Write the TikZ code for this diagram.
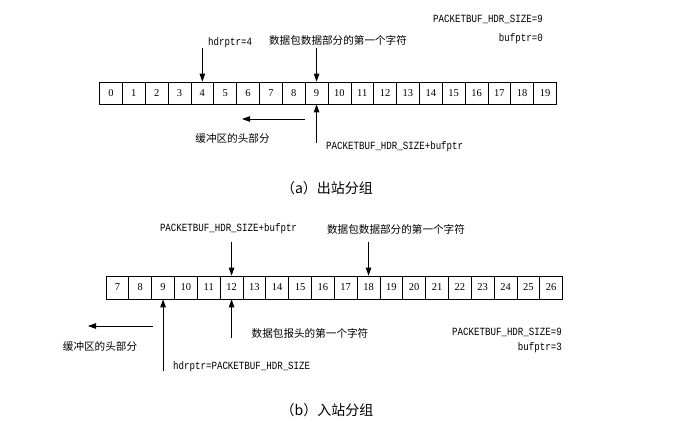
\documentclass[tikz,border=0pt]{standalone}
\usepackage{fontspec}
\setmainfont{Liberation Serif}
\newfontfamily\cjk{Noto Sans CJK SC}
\newfontfamily\monof[FakeStretch=0.83]{Liberation Mono}
\usetikzlibrary{arrows.meta}
\tikzset{
  cellA/.style={draw, line width=0.7pt, minimum width=22.85pt, minimum height=22pt, inner sep=0pt, font=\fontsize{10.5}{12}\selectfont},
  cellB/.style={draw, line width=0.7pt, minimum width=22.83pt, minimum height=23pt, inner sep=0pt, font=\fontsize{10.5}{12}\selectfont},
  arr/.style={line width=0.8pt, -{Triangle[length=8pt,width=5.5pt]}},
  mlab/.style={inner sep=0pt, font=\monof\fontsize{11}{12}\selectfont},
  clab/.style={inner sep=0pt, font=\cjk\fontsize{10.6}{12}\selectfont},
  caplab/.style={inner sep=0pt, font=\cjk\fontsize{14}{16}\selectfont},
}
\begin{document}
\begin{tikzpicture}[x=1pt,y=-1pt]
\useasboundingbox (0,0) rectangle (691,427);
% ---- (a) ----
\foreach \i in {0,...,19} {
  \node[cellA] (a\i) at ({99.5+(\i+0.5)*22.85},93) {\i};
}
\node[mlab, anchor=east] (asz) at (543,19) {PACKETBUF\_HDR\_SIZE=9};
\node[mlab, anchor=east] (abp) at (543,39) {bufptr=0};
\node[mlab, anchor=west] (ahdr) at (208,43) {hdrptr=4};
\node[clab] (adata) at (338,40) {数据包数据部分的第一个字符};
\coordinate (ap4) at ([yshift=34pt]a4.north);
\coordinate (ap9) at ([yshift=34pt]a9.north);
\draw[arr] (ap4) -- (a4.north);
\draw[arr] (ap9) -- (a9.north);
\coordinate (aq9) at ([yshift=-39pt]a9.south);
\draw[arr] (aq9) -- (a9.south);
\node[mlab, anchor=west] (apbs) at (326,147) {PACKETBUF\_HDR\_SIZE+bufptr};
\coordinate (al1) at (305,119);
\coordinate (al2) at (242,119);
\draw[arr] (al1) -- (al2);
\node[clab] (ahead) at (232.5,138) {缓冲区的头部分};
\node[caplab] (acap) at (327,188) {（a）出站分组};
% ---- (b) ----
\foreach \i [evaluate=\i as \v using int(\i+7)] in {0,...,19} {
  \node[cellB] (b\i) at ({106+(\i+0.5)*22.83},287.5) {\v};
}
\node[mlab] (bpbs) at (228.5,229) {PACKETBUF\_HDR\_SIZE+bufptr};
\node[clab] (bdata) at (396,229) {数据包数据部分的第一个字符};
\coordinate (bp5) at ([yshift=34pt]b5.north);
\coordinate (bp11) at ([yshift=34pt]b11.north);
\draw[arr] (bp5) -- (b5.north);
\draw[arr] (bp11) -- (b11.north);
\coordinate (bq2) at ([yshift=-72pt]b2.south);
\coordinate (bq5) at ([yshift=-39pt]b5.south);
\draw[arr] (bq2) -- (b2.south);
\draw[arr] (bq5) -- (b5.south);
\node[mlab, anchor=west] (bhdr) at (173,367) {hdrptr=PACKETBUF\_HDR\_SIZE};
\node[clab] (bhead1) at (310,333) {数据包报头的第一个字符};
\coordinate (bl1) at (153,326);
\coordinate (bl2) at (88,326);
\draw[arr] (bl1) -- (bl2);
\node[clab] (bhead) at (100,346) {缓冲区的头部分};
\node[mlab, anchor=east] (bsz) at (562,332) {PACKETBUF\_HDR\_SIZE=9};
\node[mlab, anchor=east] (bbp) at (562,348) {bufptr=3};
\node[caplab] (bcap) at (327,410) {（b）入站分组};
\end{tikzpicture}
\end{document}
